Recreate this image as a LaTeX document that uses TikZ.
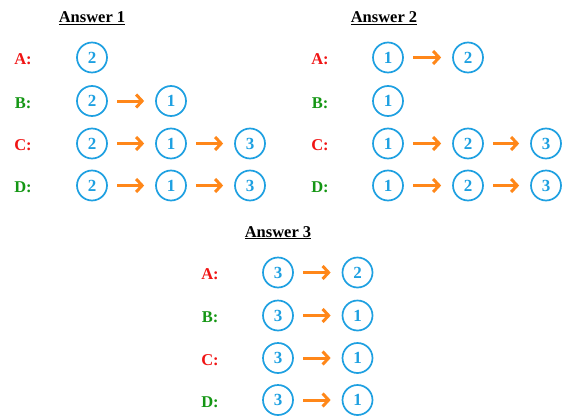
\documentclass[tikz,border=0pt]{standalone}
\usepackage{fontspec}
\setmainfont{Liberation Serif}
\usetikzlibrary{arrows.meta}
\definecolor{stepblue}{RGB}{30,160,225}
\definecolor{flowor}{RGB}{255,135,25}
\definecolor{lblred}{RGB}{240,20,20}
\definecolor{lblgreen}{RGB}{20,150,20}
\tikzset{
  num/.style={circle,draw=stepblue,line width=1.7pt,minimum size=30pt,inner sep=0pt,
    text=stepblue,font=\fontsize{17}{17}\selectfont\bfseries},
  flow/.style={draw=flowor,line width=3pt,-{Straight Barb[length=6pt,width=13pt]},
    shorten <=9.5pt,shorten >=11pt},
  lbl/.style={anchor=base,font=\fontsize{16.5}{16.5}\selectfont\bfseries},
  ttl/.style={anchor=base,font=\fontsize{16.5}{16.5}\selectfont\bfseries}
}
\begin{document}
\begin{tikzpicture}[x=1pt,y=-1pt]
\useasboundingbox (0,0) rectangle (567,415);

% Answer 1
\node[ttl] (t1) at (92,23) {\underline{Answer 1}};
\node[lbl,text=lblred]   (a1) at (23,64.5)  {A:};
\node[lbl,text=lblgreen] (b1) at (23,108)   {B:};
\node[lbl,text=lblred]   (c1) at (23,150.5) {C:};
\node[lbl,text=lblgreen] (d1) at (23,192.5) {D:};
\node[num] (a1x) at (92,57.5) {2};
\node[num] (b1x) at (92,101) {2};
\node[num] (b1y) at (171,101) {1};
\node[num] (c1x) at (92,143.5) {2};
\node[num] (c1y) at (171,143.5) {1};
\node[num] (c1z) at (250,143.5) {3};
\node[num] (d1x) at (92,185.5) {2};
\node[num] (d1y) at (171,185.5) {1};
\node[num] (d1z) at (250,185.5) {3};
\draw[flow] (b1x) -- (b1y);
\draw[flow] (c1x) -- (c1y);
\draw[flow] (c1y) -- (c1z);
\draw[flow] (d1x) -- (d1y);
\draw[flow] (d1y) -- (d1z);

% Answer 2
\node[ttl] (t2) at (384,23) {\underline{Answer 2}};
\node[lbl,text=lblred]   (a2) at (320,64.5)  {A:};
\node[lbl,text=lblgreen] (b2) at (320,108)   {B:};
\node[lbl,text=lblred]   (c2) at (320,150.5) {C:};
\node[lbl,text=lblgreen] (d2) at (320,192.5) {D:};
\node[num] (a2x) at (388,57.5) {1};
\node[num] (a2y) at (468,57.5) {2};
\node[num] (b2x) at (388,101) {1};
\node[num] (c2x) at (388,143.5) {1};
\node[num] (c2y) at (468,143.5) {2};
\node[num] (c2z) at (546,143.5) {3};
\node[num] (d2x) at (388,185.5) {1};
\node[num] (d2y) at (468,185.5) {2};
\node[num] (d2z) at (546,185.5) {3};
\draw[flow] (a2x) -- (a2y);
\draw[flow] (c2x) -- (c2y);
\draw[flow] (c2y) -- (c2z);
\draw[flow] (d2x) -- (d2y);
\draw[flow] (d2y) -- (d2z);

% Answer 3
\node[ttl] (t3) at (278,237) {\underline{Answer 3}};
\node[lbl,text=lblred]   (a3) at (210,279.5) {A:};
\node[lbl,text=lblgreen] (b3) at (210,322.5) {B:};
\node[lbl,text=lblred]   (c3) at (210,365)   {C:};
\node[lbl,text=lblgreen] (d3) at (210,407)   {D:};
\node[num] (a3x) at (278,272.5) {3};
\node[num] (a3y) at (357.5,272.5) {2};
\node[num] (b3x) at (278,315.5) {3};
\node[num] (b3y) at (357.5,315.5) {1};
\node[num] (c3x) at (278,358) {3};
\node[num] (c3y) at (357.5,358) {1};
\node[num] (d3x) at (278,400) {3};
\node[num] (d3y) at (357.5,400) {1};
\draw[flow] (a3x) -- (a3y);
\draw[flow] (b3x) -- (b3y);
\draw[flow] (c3x) -- (c3y);
\draw[flow] (d3x) -- (d3y);
\end{tikzpicture}
\end{document}
